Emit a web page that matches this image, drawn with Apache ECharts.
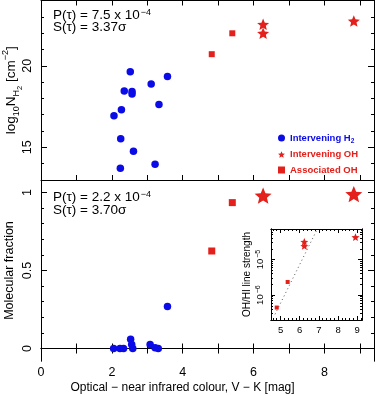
<!DOCTYPE html>
<html>
<head>
<meta charset="utf-8">
<script src="https://cdn.jsdelivr.net/npm/echarts@6/dist/echarts.min.js"></script>
<style>
  html, body { margin: 0; padding: 0; background: #fff; }
  #chart { width: 376px; height: 396px; }
</style>
</head>
<body>
<div id="chart"></div>
<script>
// intervening H2
var h2Colour = [2.52, 3.57, 3.11, 2.35, 2.57, 2.57, 3.33, 2.27, 2.06, 2.25, 2.61, 3.22, 2.24]
var h2Column = [19.63, 19.35, 18.88, 18.46, 18.42, 18.27, 17.62, 17.3, 16.93, 15.53, 14.76, 13.96, 13.72]
var h2FracColour = [2.05, 2.23, 2.33, 2.53, 2.56, 2.59, 3.08, 3.22, 3.31, 3.57]
var h2Fraction = [0, 0, 0, 0.06, 0.025, 0, 0.025, 0.005, 0, 0.27]
// intervening OH
var ohIntColour = [6.27, 6.27, 8.83]
var ohIntColumn = [22.54, 21.99, 22.74]
var ohIntFracColour = [6.27, 8.83]
var ohIntFraction = [0.98, 0.99]
var ohIntLineColour = [6.24, 6.24, 8.91]
var ohIntLineStrength = [-4.5, -4.62, -4.37] // log10
// associated OH
var ohAssColour = [4.82, 5.40]
var ohAssColumn = [20.71, 21.99]
var ohAssFraction = [0.625, 0.935]
var ohAssLineColour = [4.80, 5.37]
var ohAssLineStrength = [-6.35, -5.63] // log10
// dotted fit in the inset
var fitColour = [4.71, 6.89]
var fitStrength = [-6.54, -4.17]

// ticks / labels
var colourTicks = [0, 1, 2, 3, 4, 5, 6, 7, 8, 9]
var colourLabels = [0, 2, 4, 6, 8]
var columnMajor = [15, 20]
var columnMinor = [13, 14, 15, 16, 17, 18, 19, 20, 21, 22, 23, 24]
var fracMajor = [0, 0.5, 1]
var fracMinor = [0, 0.1, 0.2, 0.3, 0.4, 0.5, 0.6, 0.7, 0.8, 0.9, 1]
var insetXMajor = [5, 6, 7, 8, 9]
var insetYMajor = [-6, -5]

var BLUE = '#0b0be8'
var RED = '#e3201b'
var FONT = 'Liberation Sans'

var insetXMinor = []
for (var i = 23; i <= 46; i++) insetXMinor.push(i / 5)
var insetYMinor = []
;[-7, -6, -5].forEach(function (n) {
  for (var k = 2; k <= 9; k++) {
    var v = n + Math.log10(k)
    if (v > -6.7 && v < -4.14) insetYMinor.push(v)
  }
})

// five pointed star
function starPath(r2) {
  var s = 'path://'
  for (var i = 0; i < 10; i++) {
    var r = i % 2 ? r2 : 1
    var a = Math.PI / 5 * i
    s += (i ? 'L' : 'M') + (r * Math.sin(a)).toFixed(3) + ',' + (-r * Math.cos(a)).toFixed(3)
  }
  return s + 'Z'
}
var STAR = starPath(0.45)

function zip(xs, ys) {
  return xs.map(function (x, i) { return [x, ys[i]] })
}

var rich = {
  sub: { fontSize: 9, lineHeight: 8, verticalAlign: 'top', padding: [11, 0, 0, 0], fontFamily: FONT, color: '#000' },
  subsub: { fontSize: 7.5, lineHeight: 7, verticalAlign: 'top', padding: [14, 0, 0, 0], fontFamily: FONT, color: '#000' },
  sup: { fontSize: 9, lineHeight: 8, verticalAlign: 'top', padding: [0, 0, 0, 0], fontFamily: FONT, color: '#000' }
}

function axis(grid, pos, min, max, ticks, len, labels, more) {
  var a = {
    type: 'value',
    gridIndex: grid,
    position: pos,
    min: min,
    max: max,
    splitLine: { show: false },
    axisLine: { show: true, lineStyle: { color: '#000', width: 1 } },
    axisTick: { show: true, inside: true, length: len, customValues: ticks, lineStyle: { color: '#000', width: 1 } },
    axisLabel: { show: false }
  }
  if (labels) {
    a.axisLabel = { show: true, customValues: labels, color: '#000', fontSize: 12.5, fontFamily: FONT, margin: 5 }
  }
  if (more) {
    for (var k in more) a[k] = more[k]
  }
  return a
}

var chart = echarts.init(document.getElementById('chart'))

var xAxes = [
  axis(0, 'bottom', 0, 9.4, colourTicks, 5),
  axis(0, 'top', 0, 9.4, colourTicks, 5),
  axis(1, 'bottom', 0, 9.4, colourTicks, 5, colourLabels, {
    name: 'Optical \u2212 near infrared colour, V \u2212 K [mag]',
    nameLocation: 'middle',
    nameGap: 21,
    nameMoveOverlap: false,
    nameTextStyle: { color: '#000', fontSize: 12, fontFamily: FONT, padding: [0, 50, 0, 0] }
  }),
  axis(1, 'top', 0, 9.4, colourTicks, 5),
  axis(2, 'bottom', 4.5, 9.25, insetXMajor, 4, insetXMajor),
  axis(2, 'bottom', 4.5, 9.25, insetXMinor, 2),
  axis(2, 'top', 4.5, 9.25, insetXMajor, 4),
  axis(2, 'top', 4.5, 9.25, insetXMinor, 2)
]
xAxes[4].axisLabel.fontSize = 9.5

var yAxes = [
  axis(0, 'left', 13, 24, columnMajor, 6, columnMajor, {
    name: 'log{sub|10}N{sub|H}{subsub|2} [cm{sup|\u22122}]',
    nameLocation: 'middle',
    nameGap: 19.5,
    nameRotate: 90,
    nameMoveOverlap: false,
    nameTextStyle: { color: '#000', fontSize: 13.5, lineHeight: 20, fontFamily: FONT, rich: rich }
  }),
  axis(0, 'left', 13, 24, columnMinor, 3),
  axis(0, 'right', 13, 24, columnMajor, 6),
  axis(0, 'right', 13, 24, columnMinor, 3),
  axis(1, 'left', -0.08, 1.08, fracMajor, 6, fracMajor, {
    name: 'Molecular fraction',
    nameLocation: 'middle',
    nameGap: 25,
    nameRotate: 90,
    nameMoveOverlap: false,
    nameTextStyle: { color: '#000', fontSize: 12.5, fontFamily: FONT }
  }),
  axis(1, 'left', -0.08, 1.08, fracMinor, 3),
  axis(1, 'right', -0.08, 1.08, fracMajor, 6),
  axis(1, 'right', -0.08, 1.08, fracMinor, 3),
  axis(2, 'left', -6.7, -4.14, insetYMajor, 4, insetYMajor, {
    name: 'OH/HI line strength',
    nameLocation: 'middle',
    nameGap: 19,
    nameRotate: 90,
    nameMoveOverlap: false,
    nameTextStyle: { color: '#000', fontSize: 10, fontFamily: FONT }
  }),
  axis(2, 'left', -6.7, -4.14, insetYMinor, 2),
  axis(2, 'right', -6.7, -4.14, insetYMajor, 4),
  axis(2, 'right', -6.7, -4.14, insetYMinor, 2)
]
;[0, 4].forEach(function (i) {
  yAxes[i].axisLabel.rotate = 90
  yAxes[i].axisLabel.margin = 7
})
yAxes[8].axisLabel.rotate = 90
yAxes[8].axisLabel.margin = 6
yAxes[8].axisLabel.fontSize = 9.5
yAxes[8].axisLabel.formatter = function (v) { return '10{sup|\u2212' + (-v) + '}' }
yAxes[8].axisLabel.rich = {
  sup: { fontSize: 7, lineHeight: 7, verticalAlign: 'top', padding: [0, 0, 0, 1], fontFamily: FONT, color: '#000' }
}

function scatter(name, grid, yIdx, data, symbol, size, color) {
  return {
    name: name,
    type: 'scatter',
    xAxisIndex: grid === 0 ? 0 : grid === 1 ? 2 : 4,
    yAxisIndex: yIdx,
    data: data,
    symbol: symbol,
    symbolSize: size,
    symbolKeepAspect: true,
    itemStyle: { color: color, opacity: 1 },
    emphasis: { disabled: true },
    z: 3
  }
}

var pText = function (x, y, t) {
  return {
    type: 'text',
    x: x,
    y: y,
    style: {
      text: t,
      fill: '#000',
      font: '13.5px "Liberation Sans"',
      verticalAlign: 'middle',
      rich: { sup: { fontSize: 9, lineHeight: 8, verticalAlign: 'top', padding: [0, 0, 0, 1], fontFamily: FONT } }
    }
  }
}

chart.setOption({
  animation: false,
  backgroundColor: '#fff',
  grid: [
    { left: 41, top: 0.5, width: 333, height: 179.5, outerBoundsMode: 'none', containLabel: false },
    { left: 41, top: 180, width: 333, height: 181, outerBoundsMode: 'none', containLabel: false },
    { left: 271, top: 229, width: 91, height: 91, outerBoundsMode: 'none', containLabel: false }
  ],
  xAxis: xAxes,
  yAxis: yAxes,
  legend: {
    orient: 'vertical',
    left: 278,
    top: 132,
    padding: 0,
    itemWidth: 7,
    itemHeight: 7,
    itemGap: 3.5,
    selectedMode: false,
    textStyle: { fontSize: 9.5, fontWeight: 'bold', lineHeight: 12, fontFamily: FONT },
    formatter: function (name) {
      return name === 'Intervening H2' ? 'Intervening H{s|2}' : name
    },
    data: [
      { name: 'Intervening H2', icon: 'circle', textStyle: { color: BLUE, rich: { s: { fontSize: 6.5, fontWeight: 'bold', lineHeight: 6, verticalAlign: 'top', padding: [6, 0, 0, 0], color: BLUE } } } },
      { name: 'Intervening OH', icon: STAR, textStyle: { color: RED } },
      { name: 'Associated OH', icon: 'rect', textStyle: { color: RED } }
    ]
  },
  graphic: [
    pText(53, 15, 'P(\u03c4) = 7.5 x 10{sup|\u22124}'),
    pText(53, 27, 'S(\u03c4) = 3.37\u03c3'),
    pText(53, 197, 'P(\u03c4) = 2.2 x 10{sup|\u22124}'),
    pText(53, 210, 'S(\u03c4) = 3.70\u03c3')
  ],
  series: [
    scatter('Intervening H2', 0, 0, zip(h2Colour, h2Column), 'circle', 7.5, BLUE),
    scatter('Intervening OH', 0, 0, zip(ohIntColour, ohIntColumn), STAR, 12, RED),
    scatter('Associated OH', 0, 0, zip(ohAssColour, ohAssColumn), 'rect', 6, RED),
    scatter('Intervening H2', 1, 4, zip(h2FracColour, h2Fraction), 'circle', 7.5, BLUE),
    scatter('Intervening OH', 1, 4, zip(ohIntFracColour, ohIntFraction), STAR, 17, RED),
    scatter('Associated OH', 1, 4, zip(ohAssColour, ohAssFraction), 'rect', 7, RED),
    {
      name: 'fit',
      type: 'line',
      xAxisIndex: 4,
      yAxisIndex: 8,
      data: zip(fitColour, fitStrength),
      symbol: 'none',
      lineStyle: { color: '#555', width: 1, type: [1, 3] },
      emphasis: { disabled: true },
      clip: true,
      z: 2
    },
    scatter('Intervening OH', 2, 8, zip(ohIntLineColour, ohIntLineStrength), STAR, 8, RED),
    scatter('Associated OH', 2, 8, zip(ohAssLineColour, ohAssLineStrength), 'rect', 4, RED)
  ]
})
</script>
</body>
</html>
